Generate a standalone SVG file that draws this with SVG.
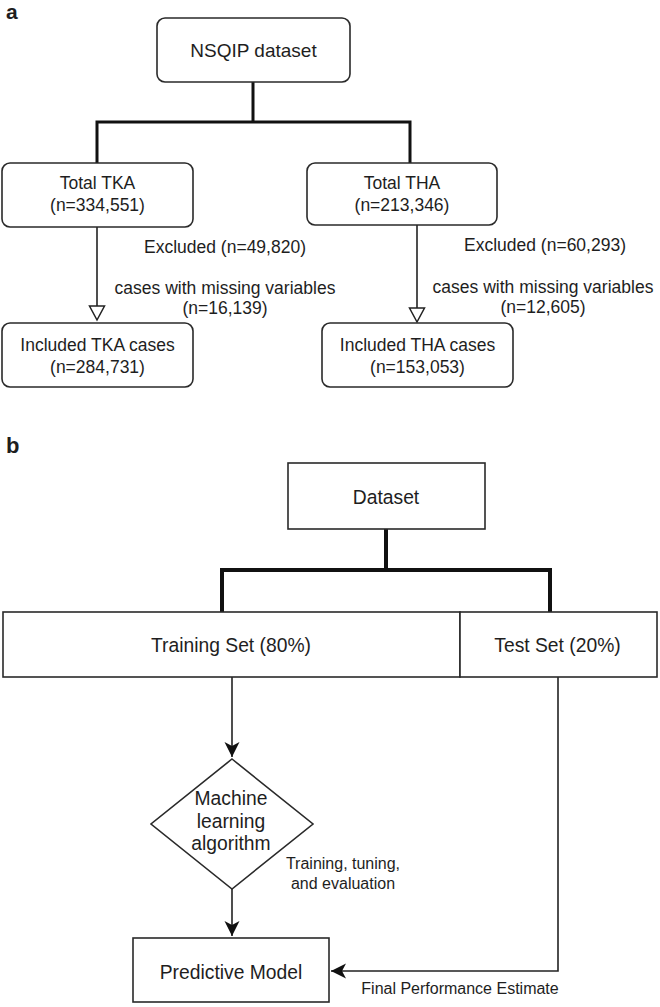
<svg xmlns="http://www.w3.org/2000/svg" width="660" height="1007" viewBox="0 0 660 1007">
<defs>
<style>
text{font-family:"Liberation Sans",Arial,sans-serif;fill:#1e1e1e;text-anchor:middle}
.lbl{font-weight:bold;font-size:21px;text-anchor:start}
.a{font-size:17.5px}
.b{font-size:19.3px}
.s{font-size:16px}
.rbox{fill:#fff;stroke:#2a2a2a;stroke-width:1.6}
.box{fill:#fff;stroke:#2a2a2a;stroke-width:1.6}
.thick{fill:none;stroke:#111;stroke-width:3}
.thickb{fill:none;stroke:#111;stroke-width:4}
.thin{fill:none;stroke:#222;stroke-width:1.6}
</style>
<marker id="hollow" markerUnits="userSpaceOnUse" markerWidth="18" markerHeight="18" viewBox="-9 -16 18 18" refX="0" refY="0" orient="auto-start-reverse">
<path d="M0,0 L-7.5,-15 L7.5,-15 Z" fill="#fff" stroke="#222" stroke-width="1.5" transform="rotate(-90)"/>
</marker>
<marker id="classic" markerUnits="userSpaceOnUse" markerWidth="18" markerHeight="18" viewBox="-16 -9 18 18" refX="0" refY="0" orient="auto">
<path d="M0,0 L-15,-7.5 L-11,0 L-15,7.5 Z" fill="#111"/>
</marker>
</defs>

<text class="lbl" x="6" y="19">a</text>
<text class="lbl" x="6" y="453" style="font-size:22px">b</text>

<g id="connectors">
<path class="thick" d="M253,82 V122 M97,163 V122 H410 V163"/>
<path class="thin" d="M97,227 V306"/>
<path d="M89.5,306 L104.5,306 L97,320 Z" fill="#fff" stroke="#222" stroke-width="1.5"/>
<path class="thin" d="M417,225 V308"/>
<path d="M409.5,308 L424.5,308 L417,322 Z" fill="#fff" stroke="#222" stroke-width="1.5"/>
<path class="thickb" d="M386,529 V570 M222,612 V570 H550 V612"/>
<path class="thin" d="M232,677 V757" marker-end="url(#classic)"/>
<path class="thin" d="M232,889 V936" marker-end="url(#classic)"/>
<path class="thin" d="M558,677 V971 H331" marker-end="url(#classic)"/>
<text class="a" x="225" y="253">Excluded (n=49,820)</text>
<text class="a" x="225" y="294">cases with missing variables</text>
<text class="a" x="225" y="314">(n=16,139)</text>
<text class="a" x="545" y="251">Excluded (n=60,293)</text>
<text class="a" x="543" y="293">cases with missing variables</text>
<text class="a" x="543" y="313">(n=12,605)</text>
<text class="s" x="343" y="869">Training, tuning,</text>
<text class="s" x="343" y="889">and evaluation</text>
<text class="s" x="460" y="994">Final Performance Estimate</text>
</g>

<g id="nsqip">
<rect class="rbox" x="157" y="18" width="193" height="64" rx="8"/>
<text x="253.5" y="57" style="font-size:19px">NSQIP dataset</text>
</g>
<g id="tka">
<rect class="rbox" x="2" y="163" width="191" height="64" rx="8"/>
<text class="a" x="97.5" y="189">Total TKA</text>
<text class="a" x="97.5" y="211">(n=334,551)</text>
</g>
<g id="tha">
<rect class="rbox" x="307" y="163" width="190" height="62" rx="8"/>
<text class="a" x="402" y="189">Total THA</text>
<text class="a" x="402" y="211">(n=213,346)</text>
</g>
<g id="inc-tka">
<rect class="rbox" x="2" y="323" width="191" height="64" rx="8"/>
<text class="a" x="97.5" y="351">Included TKA cases</text>
<text class="a" x="97.5" y="373">(n=284,731)</text>
</g>
<g id="inc-tha">
<rect class="rbox" x="322" y="323" width="191" height="64" rx="8"/>
<text class="a" x="417.5" y="351">Included THA cases</text>
<text class="a" x="417.5" y="373">(n=153,053)</text>
</g>

<g id="dataset">
<rect class="box" x="288" y="463" width="197" height="66"/>
<text class="b" x="386" y="504">Dataset</text>
</g>
<g id="training">
<rect class="box" x="3" y="612" width="457" height="65"/>
<text class="b" x="231" y="652">Training Set (80%)</text>
</g>
<g id="test">
<rect class="box" x="460" y="612" width="197" height="65"/>
<text class="b" x="557.5" y="652">Test Set (20%)</text>
</g>
<g id="ml">
<path class="box" d="M232,759 L313,824 L232,889 L151,824 Z"/>
<text class="b" x="231" y="805">Machine</text>
<text class="b" x="231" y="828">learning</text>
<text class="b" x="231" y="850">algorithm</text>
</g>
<g id="predictive">
<rect class="box" x="133" y="938" width="196" height="64"/>
<text class="b" x="231" y="979">Predictive Model</text>
</g>
</svg>
